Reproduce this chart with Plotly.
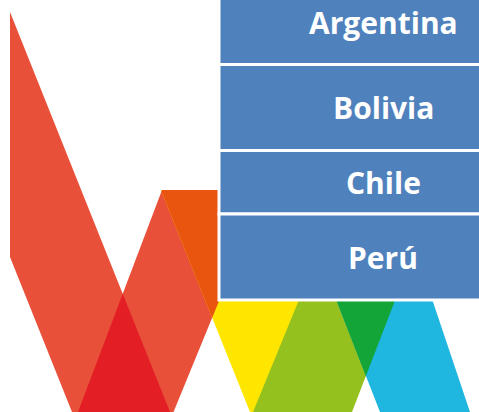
import plotly.graph_objects as go

# ---- data -------------------------------------------------------------
countries = ["Argentina", "Bolivia", "Chile", "Perú"]

# logo bands (outline vertices in picture units, y grows downward)
red_down_x = [10, 170, 72, 10]
red_down_y = [12, 412, 412, 257]
red_up_x = [78, 162, 264.5, 173.5]
red_up_y = [412, 190, 190, 412]
yellow_x = [161, 261, 350, 250]
yellow_y = [190, 190, 412, 412]
green_x = [253, 344, 437.5, 352]
green_y = [412, 190, 190, 412]
cyan_x = [293.4, 395.4, 470, 380]
cyan_y = [190, 190, 412, 412]

# table rows edges (top of each row, last = bottom)
row_edges = [-19.5, 64.5, 150.5, 214, 300]
table_left, table_right = 219, 547

# ---- styles -----------------------------------------------------------
C_RED = "#E8503A"
C_DARKRED = "#E31E24"
C_YELLOW = "#FFE600"
C_ORANGE = "#E9540F"
C_GREEN = "#95C11F"
C_DARKGREEN = "#14A538"
C_CYAN = "#1FB6E0"
C_BLUE = "#4F81BD"


def clip(subject, clipper):
    cx = sum(p[0] for p in clipper) / len(clipper)
    cy = sum(p[1] for p in clipper) / len(clipper)
    out = list(subject)
    n = len(clipper)
    for i in range(n):
        a = clipper[i]
        b = clipper[(i + 1) % n]

        def side(p):
            return (b[0] - a[0]) * (p[1] - a[1]) - (b[1] - a[1]) * (p[0] - a[0])

        ref = side((cx, cy))
        new = []
        for j in range(len(out)):
            cur, prev = out[j], out[j - 1]
            sc, sp = side(cur) * ref, side(prev) * ref
            if sc >= 0:
                if sp < 0:
                    t = sp / (sp - sc)
                    new.append((prev[0] + t * (cur[0] - prev[0]), prev[1] + t * (cur[1] - prev[1])))
                new.append(cur)
            elif sp >= 0:
                t = sp / (sp - sc)
                new.append((prev[0] + t * (cur[0] - prev[0]), prev[1] + t * (cur[1] - prev[1])))
        out = new
    return out


def poly(xs, ys):
    return list(zip(xs, ys))


def add_poly(fig, pts, color):
    xs = [p[0] for p in pts] + [pts[0][0]]
    ys = [p[1] for p in pts] + [pts[0][1]]
    fig.add_trace(go.Scatter(x=xs, y=ys, mode="lines", fill="toself",
                             fillcolor=color, line=dict(width=0, color=color),
                             hoverinfo="skip", showlegend=False))


A = poly(red_down_x, red_down_y)
B = poly(red_up_x, red_up_y)
C = poly(yellow_x, yellow_y)
D = poly(green_x, green_y)
E = poly(cyan_x, cyan_y)

fig = go.Figure()
add_poly(fig, A, C_RED)
add_poly(fig, B, C_RED)
add_poly(fig, clip(A, B), C_DARKRED)
add_poly(fig, C, C_YELLOW)
add_poly(fig, clip(B, C), C_ORANGE)
add_poly(fig, D, C_GREEN)
add_poly(fig, E, C_CYAN)
add_poly(fig, clip(D, E), C_DARKGREEN)

shapes = []
annotations = []
for i, name in enumerate(countries):
    y0, y1 = row_edges[i], row_edges[i + 1]
    shapes.append(dict(type="rect", xref="x", yref="y", x0=table_left, x1=table_right,
                       y0=y0, y1=y1, fillcolor=C_BLUE, line=dict(color="white", width=3),
                       layer="above"))
    annotations.append(dict(x=(table_left + table_right) / 2, y=(y0 + y1) / 2,
                            xref="x", yref="y", text=f"<b>{name}</b>", showarrow=False,
                            font=dict(family="Open Sans", size=30, color="white"),
                            xanchor="center", yanchor="middle"))

fig.update_layout(
    width=479, height=412,
    margin=dict(l=0, r=0, t=0, b=0),
    paper_bgcolor="white", plot_bgcolor="white",
    shapes=shapes, annotations=annotations, showlegend=False,
    xaxis=dict(range=[0, 479], visible=False, fixedrange=True),
    yaxis=dict(range=[412, 0], visible=False, fixedrange=True),
)

fig.write_html("out.html", config={"displayModeBar": False},
               post_script="document.body.style.margin='0';document.body.style.overflow='hidden';")
